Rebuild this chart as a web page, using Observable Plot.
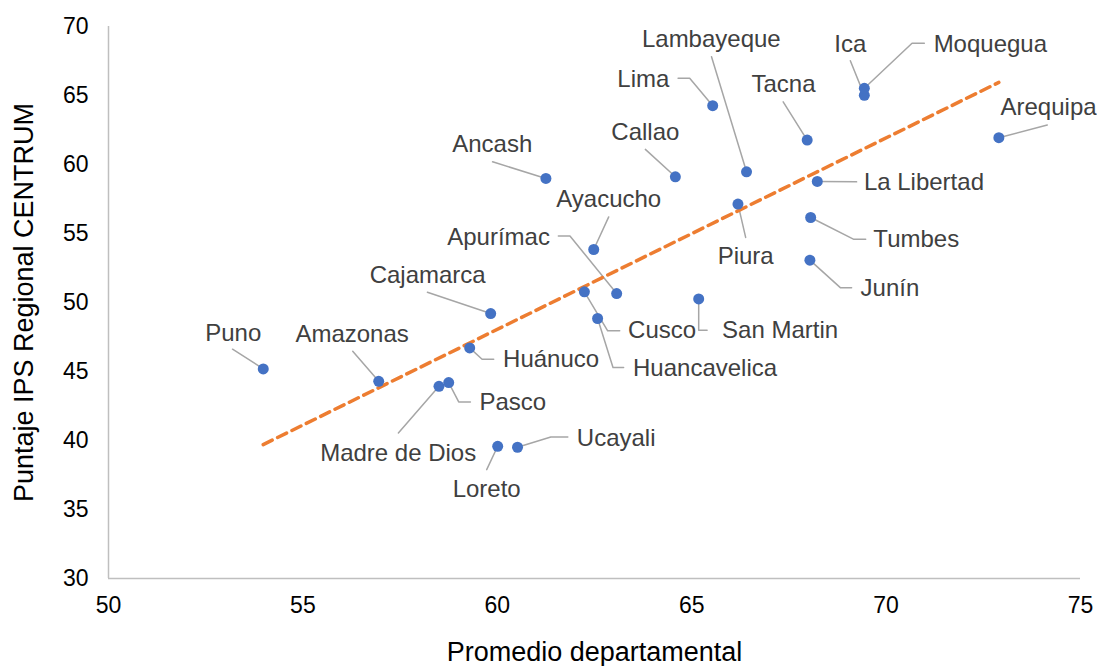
<!DOCTYPE html>
<html><head><meta charset="utf-8">
<script src="https://cdn.jsdelivr.net/npm/d3@7"></script>
<script src="https://cdn.jsdelivr.net/npm/@observablehq/plot@0.6"></script>
<style>body{margin:0;background:#fff;} #chart svg{display:block}</style>
</head><body><div id="chart"></div>
<script>
// ---- data ----
const regions = ["Puno","Amazonas","Madre de Dios","Pasco","Huánuco","Cajamarca","Cusco","San Martin","Huancavelica","Apurímac","Ayacucho","Ancash","Callao","Lima","Lambayeque","Tacna","Piura","La Libertad","Tumbes","Junín","Ica","Moquegua","Arequipa","Loreto","Ucayali"];
const promedio = [53.98,56.95,58.50,58.75,59.29,59.83,62.24,65.18,62.58,63.07,62.48,61.25,64.58,65.54,66.41,67.97,66.19,68.23,68.06,68.04,69.44,69.44,72.90,60.01,60.52];
const ips = [45.19,44.29,43.93,44.20,46.71,49.20,50.77,50.26,48.84,50.65,53.84,58.99,59.11,64.26,59.47,61.77,57.13,58.77,56.16,53.07,65.01,65.52,61.94,39.58,39.51];
const xTicks = [50,55,60,65,70,75];
const yTicks = [30,35,40,45,50,55,60,65,70];
const xLabel = "Promedio departamental";
const yLabel = "Puntaje IPS Regional CENTRUM";

// ---- label layout (pixel offsets from each point) ----
const labelLayout = {
  "Puno":          {t:[-30,-36],   a:"middle", l:[[-30.7,-19.7]]},
  "Amazonas":      {t:[-26.6,-47], a:"middle", l:[[-26,-30]]},
  "Madre de Dios": {t:[-40.8,66.7],a:"middle", l:[[-40.6,46.7]]},
  "Pasco":         {t:[30.7,19.4], a:"start",  l:[[21.7,19.4],[10,19.4]]},
  "Huánuco":       {t:[33.4,11.6], a:"start",  l:[[24,11.3],[12.4,11.3]]},
  "Cajamarca":     {t:[-63,-38],   a:"middle", l:[[-63.3,-21.3]]},
  "Cusco":         {t:[43.7,38.3], a:"start",  l:[[35.3,39],[23.3,39]]},
  "San Martin":    {t:[23.4,31.3], a:"start",  l:[[8.4,31.3],[0,31.3]]},
  "Huancavelica":  {t:[35.4,50],   a:"start",  l:[[26,49],[15.4,49]]},
  "Apurímac":      {t:[-66.7,-56], a:"end",    l:[[-58.3,-57.6],[-46.7,-57.6]]},
  "Ayacucho":      {t:[15,-50.3],  a:"middle", l:[[15,-32.6]]},
  "Ancash":        {t:[-53.6,-34.3],a:"middle",l:[[-53.3,-16.6]]},
  "Callao":        {t:[-30,-44.4], a:"middle", l:[[-30,-27.4]]},
  "Lima":          {t:[-43.3,-26.4],a:"end",   l:[[-34.6,-27.4],[-23,-27.4]]},
  "Lambayeque":    {t:[-35.2,-132.4],a:"middle",l:[[-35,-115]]},
  "Tacna":         {t:[-23.7,-56], a:"middle", l:[[-24,-38.3]]},
  "Piura":         {t:[7.7,52],    a:"middle", l:[[7.7,33.3]]},
  "La Libertad":   {t:[46.6,1],    a:"start",  l:[[39.3,0.4]]},
  "Tumbes":        {t:[62.7,21.7], a:"start",  l:[[55,21.7],[42.7,21.7]]},
  "Junín":         {t:[50.7,28.3], a:"start",  l:[[41.7,27.7],[30.7,27.7]]},
  "Ica":           {t:[-14,-51.3], a:"middle", l:[[-14,-34.6]]},
  "Moquegua":      {t:[69.3,-44.3],a:"start",  l:[[60,-45],[47.7,-45]]},
  "Arequipa":      {t:[49.7,-30.4],a:"middle", l:[[48.4,-12.7]]},
  "Loreto":        {t:[-11,43.3],  a:"middle", l:[[-11,23.3]]},
  "Ucayali":       {t:[59.3,-9.3], a:"start",  l:[[50.3,-10.3],[33.3,-10.3]]}
};

const W = 1097, H = 666, mL = 108, mR = 17, mT = 26, mB = 88;
const xDom = [xTicks[0], xTicks[xTicks.length-1]];
const yDom = [yTicks[0], yTicks[yTicks.length-1]];
const kx = (W - mL - mR) / (xDom[1] - xDom[0]);
const ky = (H - mT - mB) / (yDom[1] - yDom[0]);

const data = regions.map((name, i) => ({name, x: promedio[i], y: ips[i]}));
const labels = data.map(d => {
  const L = labelLayout[d.name];
  return {name: d.name, anchor: L.a, x: d.x + L.t[0] / kx, y: d.y - L.t[1] / ky};
});
const leaders = data.flatMap(d => {
  const L = labelLayout[d.name];
  return [...L.l, [0, 0]].map((p, j) => ({name: d.name, j, x: d.x + p[0] / kx, y: d.y - p[1] / ky}));
});

const chart = Plot.plot({
  width: W, height: H,
  marginLeft: mL, marginRight: mR, marginTop: mT, marginBottom: mB,
  style: {fontFamily: "'Liberation Sans', Arial, sans-serif", background: "#fff", color: "#000"},
  x: {domain: xDom},
  y: {domain: yDom},
  marks: [
    Plot.ruleY([yDom[0]], {stroke: "#BFBFBF", strokeWidth: 1.5}),
    Plot.ruleX([xDom[0]], {stroke: "#BFBFBF", strokeWidth: 1.5}),
    Plot.axisX(xTicks, {tickSize: 0, tickPadding: 18, fontSize: 23, label: null}),
    Plot.axisY(yTicks, {tickSize: 0, tickPadding: 20, fontSize: 23, label: null}),
    Plot.text([xLabel], {frameAnchor: "bottom", textAnchor: "middle", lineAnchor: "middle", dy: 74, fontSize: 27, fill: "#000"}),
    Plot.text([yLabel], {frameAnchor: "left", textAnchor: "middle", lineAnchor: "middle", rotate: -90, dx: -84, fontSize: 27, fill: "#000"}),
    Plot.line(leaders, {x: "x", y: "y", z: "name", stroke: "#A6A6A6", strokeWidth: 1.5}),
    Plot.linearRegressionY(data, {x: "x", y: "y", stroke: "#ED7D31", strokeWidth: 3.5, strokeDasharray: "10,6", ci: 0}),
    Plot.dot(data, {x: "x", y: "y", r: 5.5, fill: "#4472C4"}),
    ...["start", "middle", "end"].map(a =>
      Plot.text(labels.filter(d => d.anchor === a), {x: "x", y: "y", text: "name", textAnchor: a, fontSize: 24, fill: "#404040"}))
  ]
});
document.getElementById("chart").appendChild(chart);
</script>
</body></html>
